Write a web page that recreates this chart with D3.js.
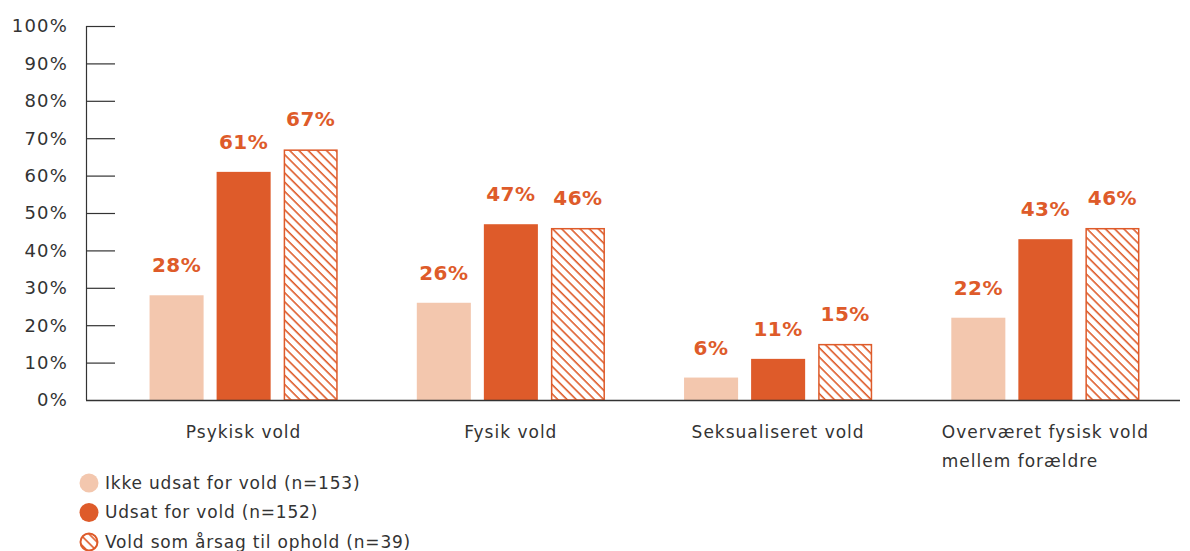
<!DOCTYPE html>
<html>
<head>
<meta charset="utf-8">
<script src="https://cdn.jsdelivr.net/npm/d3@7"></script>
<style>
  body { margin: 0; background: #fff; }
  svg { display: block; font-family: "DejaVu Sans", sans-serif; }
</style>
</head>
<body>
<div id="chart"></div>
<script>
const categories = ["Psykisk vold", "Fysik vold", "Seksualiseret vold", "Overværet fysisk vold|mellem forældre"];
const seriesNames = ["Ikke udsat for vold (n=153)", "Udsat for vold (n=152)", "Vold som årsag til ophold (n=39)"];
const ikkeUdsat = [28, 26, 6, 22];
const udsat = [61, 47, 11, 43];
const aarsag = [67, 46, 15, 46];
const yTicks = [0, 10, 20, 30, 40, 50, 60, 70, 80, 90, 100];

const W = 1190, H = 551;
const orange = "#de5b2a", light = "#f3c7ae", textCol = "#333";

const svg = d3.select("#chart").append("svg")
    .attr("width", W)
    .attr("height", H);

const defs = svg.append("defs");
const pat = defs.append("pattern")
    .attr("id", "hatch")
    .attr("patternUnits", "userSpaceOnUse")
    .attr("width", 6.5)
    .attr("height", 6.5)
    .attr("patternTransform", "rotate(45)");
pat.append("rect").attr("width", 6.5).attr("height", 6.5).attr("fill", "#fff");
pat.append("line")
    .attr("x1", 0).attr("y1", 0).attr("x2", 6.5).attr("y2", 0)
    .attr("stroke", orange).attr("stroke-width", 3.2);

const y = d3.scaleLinear().domain([0, 100]).range([400, 26]);
const x = d3.scaleBand().domain(categories).range([110, 1179])
    .paddingInner(0.296).paddingOuter(0.148);
const xi = d3.scaleBand().domain([0, 1, 2]).range([0, x.bandwidth()])
    .paddingInner(0.194);

const series = [
    { values: ikkeUdsat, fill: light, stroke: "none" },
    { values: udsat, fill: orange, stroke: "none" },
    { values: aarsag, fill: "url(#hatch)", stroke: orange }
];

// y axis
const yAxis = svg.append("g");
yAxis.append("line")
    .attr("x1", 86.5).attr("x2", 86.5).attr("y1", y(100)).attr("y2", y(0))
    .attr("stroke", textCol).attr("stroke-width", 1.2);
yAxis.selectAll("line.tick")
    .data(yTicks.filter(d => d > 0))
    .join("line")
    .attr("class", "tick")
    .attr("x1", 86).attr("x2", 115)
    .attr("y1", d => y(d) + 0.5).attr("y2", d => y(d) + 0.5)
    .attr("stroke", textCol).attr("stroke-width", 1.2);
yAxis.selectAll("text")
    .data(yTicks)
    .join("text")
    .attr("x", 68)
    .attr("y", d => y(d))
    .attr("dy", "0.35em")
    .attr("text-anchor", "end")
    .attr("fill", textCol)
    .style("font-size", "18px")
    .style("letter-spacing", "1.2px")
    .text(d => d + "%");

// bars
const groups = svg.append("g")
    .selectAll("g")
    .data(categories)
    .join("g")
    .attr("transform", d => `translate(${x(d)},0)`);

series.forEach((s, si) => {
    groups.append("rect")
        .attr("x", si === 2 ? xi(si) + 0.75 : xi(si))
        .attr("width", si === 2 ? xi.bandwidth() - 1.5 : xi.bandwidth())
        .attr("y", (d, i) => y(s.values[i]) + (si === 2 ? 0.75 : 0))
        .attr("height", (d, i) => y(0) - y(s.values[i]) - (si === 2 ? 0.75 : 0))
        .attr("fill", s.fill)
        .attr("stroke", s.stroke)
        .attr("stroke-width", 1.5);
    groups.append("text")
        .attr("x", xi(si) + xi.bandwidth() / 2)
        .attr("y", (d, i) => y(s.values[i]) - 23)
        .attr("text-anchor", "middle")
        .attr("fill", orange)
        .style("font-size", "20px")
        .style("font-weight", "bold")
        .style("letter-spacing", "0.5px")
        .text((d, i) => s.values[i] + "%");
});

// baseline
svg.append("line")
    .attr("x1", 86).attr("x2", 1180).attr("y1", y(0) + 0.5).attr("y2", y(0) + 0.5)
    .attr("stroke", textCol).attr("stroke-width", 1.5);

// category labels (multi-line labels: block centred, lines left-aligned)
const catLabels = svg.append("g")
    .selectAll("text")
    .data(categories)
    .join("text")
    .attr("y", 438)
    .attr("text-anchor", "start")
    .attr("fill", textCol)
    .style("font-size", "17px")
    .style("letter-spacing", "1px");
catLabels.each(function (d) {
    const t = d3.select(this);
    const spans = d.split("|").map((l, i) => t.append("tspan")
        .attr("dy", i === 0 ? 0 : 29)
        .text(l));
    const maxW = d3.max(spans, s => s.node().getComputedTextLength());
    const left = x(d) + x.bandwidth() / 2 - maxW / 2;
    spans.forEach(s => s.attr("x", left));
});

// legend
const legend = svg.append("g")
    .selectAll("g")
    .data(seriesNames)
    .join("g")
    .attr("transform", (d, i) => `translate(89,${483 + i * 29.5})`);
legend.append("circle")
    .attr("r", (d, i) => i === 2 ? 8.5 : 9.5)
    .attr("fill", (d, i) => series[i].fill)
    .attr("stroke", (d, i) => series[i].stroke)
    .attr("stroke-width", 2);
legend.append("text")
    .attr("x", 16)
    .attr("dy", "0.35em")
    .attr("fill", textCol)
    .style("font-size", "17px")
    .style("letter-spacing", "0.8px")
    .text(d => d);
</script>
</body>
</html>
